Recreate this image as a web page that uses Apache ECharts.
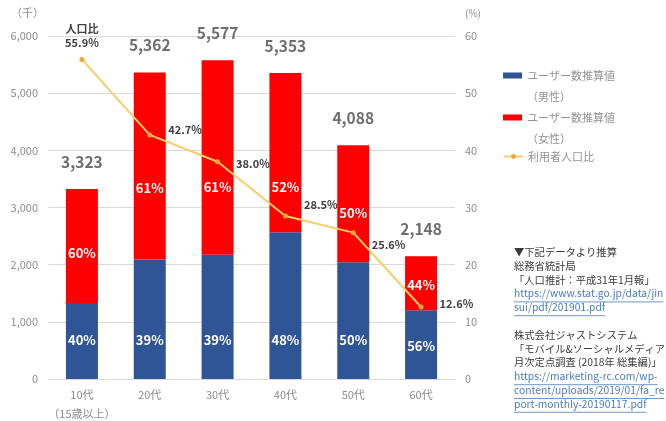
<!DOCTYPE html>
<html><head><meta charset="utf-8">
<script src="https://cdn.jsdelivr.net/npm/echarts@6/dist/echarts.min.js"></script>
<style>html,body{margin:0;padding:0;background:#fff}#c{width:666px;height:421px}</style>
</head><body><div id="c"></div>
<script>
// ---- data ----
const categories = ['10代\n（15歳以上）', '20代', '30代', '40代', '50代', '60代'];
const maleValues = [1329, 2091, 2175, 2569, 2044, 1203];
const femaleValues = [1994, 3271, 3402, 2784, 2044, 945];
const totalValues = [3323, 5362, 5577, 5353, 4088, 2148];
const malePct = [40, 39, 39, 48, 50, 56];
const femalePct = [60, 61, 61, 52, 50, 44];
const ratioValues = [55.9, 42.7, 38.0, 28.5, 25.6, 12.6];
const seriesNames = ['ユーザー数推算値\n（男性）', 'ユーザー数推算値\n（女性）', '利用者人口比'];
const leftAxisName = '（千）';
const rightAxisName = '(%)';
const sourceLines = [
  ['▼下記データより推算', false],
  ['総務省統計局', false],
  ['「人口推計：平成31年1月報」', false],
  ['https://www.stat.go.jp/data/jin', true],
  ['sui/pdf/201901.pdf', true],
  ['', false],
  ['株式会社ジャストシステム', false],
  ['「モバイル&ソーシャルメディア', false],
  ['月次定点調査 (2018年 総集編)」', false],
  ['https://marketing-rc.com/wp-', true],
  ['content/uploads/2019/01/fa_re', true],
  ['port-monthly-20190117.pdf', true]
];

// ---- styling / layout ----
const FONT = '"Noto Sans CJK JP", "Noto Sans", sans-serif';
const BLUE = '#2F5597', RED = '#FF0000', GOLD = '#F8CD66', GOLD_DOT = '#EFA534';
const AXIS_GRAY = '#8C8C8C', GRID_GRAY = '#D9D9D9', DARK = '#404040';
const femaleNudge = [7, 22, 30, 34, 9, 2];
const maleNudge = [0, 0, 0, 0, 0, 6];
const ratioNudge = [[0, 0], [0, -5], [0, 2], [0, -11], [0, 12], [0, -3]];

const chart = echarts.init(document.getElementById('c'), null, {renderer: 'canvas'});

const maleData = maleValues.map((v, i) => ({
  value: v,
  label: {offset: [0, maleNudge[i]]}
}));
const femaleData = femaleValues.map((v, i) => ({
  value: v,
  label: {offset: [0, femaleNudge[i]]}
}));
const ratioData = ratioValues.map((v, i) => {
  if (i === 0) {
    return {value: v, label: {position: 'top', distance: 7, align: 'center', lineHeight: 14,
      formatter: '人口比\n' + v.toFixed(1) + '%'}};
  }
  return {value: v, label: {offset: ratioNudge[i]}};
});

// source text graphic
const SRC_SIZE = 10.3, SRC_X = 514, SRC_Y0 = 254, SRC_STEP = 13.8;
const mctx = document.createElement('canvas').getContext('2d');
mctx.font = SRC_SIZE + 'px ' + FONT;
const graphics = [];
sourceLines.forEach((ln, i) => {
  const [t, link] = ln;
  if (!t) return;
  const y = SRC_Y0 + i * SRC_STEP;
  const col = link ? '#4A7BC0' : '#3A3A3A';
  graphics.push({type: 'text', left: SRC_X, top: y - 7, silent: true,
    style: {text: t, fill: col, font: SRC_SIZE + 'px ' + FONT}});
  if (link) {
    const w = mctx.measureText(t).width;
    graphics.push({type: 'line', silent: true,
      shape: {x1: SRC_X, y1: y + 6.5, x2: SRC_X + w, y2: y + 6.5},
      style: {stroke: col, lineWidth: 0.8}});
  }
});

const legendText = {color: '#939393', fontSize: 11, fontFamily: FONT, lineHeight: 21};
const twoLine = name => '\u3000\n' + name;

const option = {
  animation: false,
  backgroundColor: '#fff',
  textStyle: {fontFamily: FONT},
  grid: {left: 48, right: 211, top: 36, bottom: 42, containLabel: false, outerBoundsMode: 'none'},
  legend: [
    {data: [seriesNames[0]], left: 503, top: 44, padding: 0, itemWidth: 19, itemHeight: 6,
     icon: 'rect', formatter: twoLine, textStyle: legendText, selectedMode: false},
    {data: [seriesNames[1]], left: 503, top: 86, padding: 0, itemWidth: 19, itemHeight: 6,
     icon: 'rect', formatter: twoLine, textStyle: legendText, selectedMode: false},
    {data: [seriesNames[2]], left: 503, top: 146, padding: 0, itemWidth: 19, itemHeight: 6,
     textStyle: legendText, selectedMode: false}
  ],
  xAxis: {
    type: 'category', data: categories,
    axisTick: {show: false},
    axisLine: {lineStyle: {color: GRID_GRAY}},
    axisLabel: {color: AXIS_GRAY, fontSize: 11, lineHeight: 19, margin: 6, interval: 0}
  },
  yAxis: [
    {type: 'value', min: 0, max: 6000, interval: 1000,
     name: leftAxisName, nameLocation: 'end', nameGap: 18,
     nameTextStyle: {color: AXIS_GRAY, fontSize: 11, align: 'right', padding: [0, 4, 0, 0]},
     axisLine: {show: false}, axisTick: {show: false},
     axisLabel: {color: AXIS_GRAY, fontSize: 11, margin: 10,
       formatter: v => v.toLocaleString('en-US')},
     splitLine: {lineStyle: {color: GRID_GRAY}}},
    {type: 'value', min: 0, max: 60, interval: 10,
     name: rightAxisName, nameLocation: 'end', nameGap: 18,
     nameTextStyle: {color: AXIS_GRAY, fontSize: 10, align: 'left', padding: [0, 0, 0, 10]},
     axisLine: {show: false}, axisTick: {show: false},
     axisLabel: {color: AXIS_GRAY, fontSize: 11, margin: 10},
     splitLine: {show: false}}
  ],
  graphic: graphics,
  series: [
    {name: seriesNames[0], type: 'bar', stack: 'pop', barWidth: 32, data: maleData,
     itemStyle: {color: BLUE},
     label: {show: true, position: 'insideBottom', distance: 32, color: '#fff',
       fontSize: 13, fontWeight: 'bold', formatter: p => malePct[p.dataIndex] + '%'}},
    {name: seriesNames[1], type: 'bar', stack: 'pop', barWidth: 32, data: femaleData,
     itemStyle: {color: RED},
     label: {show: true, position: 'inside', color: '#fff',
       fontSize: 13, fontWeight: 'bold', formatter: p => femalePct[p.dataIndex] + '%'}},
    {name: 'total', type: 'scatter', data: totalValues, symbol: 'circle', symbolSize: 1,
     itemStyle: {color: 'rgba(0,0,0,0)'}, silent: true, z: 5,
     label: {show: true, position: 'top', distance: 19, color: '#4A4A4A', fontSize: 15.5,
       fontWeight: 'bold', formatter: p => p.value.toLocaleString('en-US')}},
    {name: seriesNames[2], type: 'line', yAxisIndex: 1, data: ratioData, z: 10,
     symbol: 'circle', symbolSize: 5,
     lineStyle: {color: GOLD, width: 2},
     itemStyle: {color: GOLD_DOT},
     label: {show: true, position: 'right', distance: 16, color: DARK, fontSize: 11,
       fontWeight: 'bold', formatter: p => p.value.toFixed(1) + '%'}}
  ]
};
chart.setOption(option);
</script>
</body></html>
